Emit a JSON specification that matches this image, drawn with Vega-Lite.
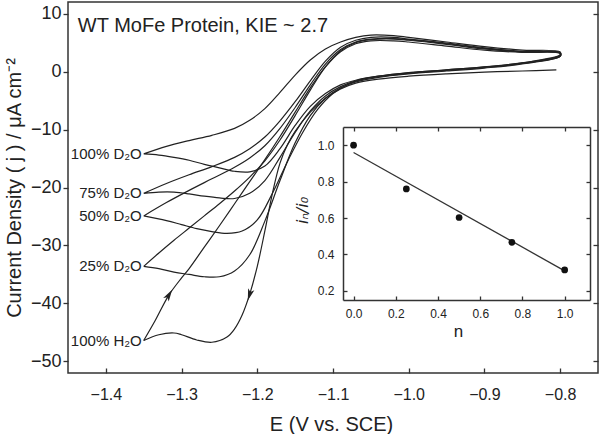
{
  "$schema": "https://vega.github.io/schema/vega-lite/v6.json",
  "width": 530,
  "height": 371,
  "autosize": "none",
  "padding": {"left": 68, "top": 2, "right": 2, "bottom": 61},
  "background": "white",
  "config": {
    "view": {"stroke": "#333", "strokeWidth": 1.5},
    "font": "Liberation Sans",
    "axis": {"labelColor": "#222", "titleColor": "#222", "tickColor": "#333", "domainColor": "#333", "grid": false, "labelFont": "Liberation Sans", "titleFont": "Liberation Sans", "titleFontWeight": "normal", "tickWidth": 1.3, "domainWidth": 1.5}
  },
  "datasets": {
    "cv": [
      {"c":"D100","i":0,"E":-1.35,"j":-14.2},{"c":"D100","i":1,"E":-1.32,"j":-12.9},{"c":"D100","i":2,"E":-1.29,"j":-11.9},{"c":"D100","i":3,"E":-1.26,"j":-11.0},{"c":"D100","i":4,"E":-1.23,"j":-9.8},{"c":"D100","i":5,"E":-1.21,"j":-8.4},{"c":"D100","i":6,"E":-1.19,"j":-6.4},{"c":"D100","i":7,"E":-1.17,"j":-3.6},{"c":"D100","i":8,"E":-1.15,"j":-0.6},{"c":"D100","i":9,"E":-1.13,"j":2.0},{"c":"D100","i":10,"E":-1.11,"j":3.9},{"c":"D100","i":11,"E":-1.09,"j":5.1},{"c":"D100","i":12,"E":-1.07,"j":5.9},{"c":"D100","i":13,"E":-1.05,"j":6.3},{"c":"D100","i":14,"E":-1.02,"j":6.2},{"c":"D100","i":15,"E":-1.0,"j":5.9},{"c":"D100","i":16,"E":-0.95,"j":5.1},{"c":"D100","i":17,"E":-0.9,"j":4.3},{"c":"D100","i":18,"E":-0.85,"j":3.7},{"c":"D100","i":19,"E":-0.8,"j":3.4},
      {"c":"D100","i":20,"E":-0.8,"j":2.9},{"c":"D100","i":21,"E":-0.85,"j":1.5},{"c":"D100","i":22,"E":-0.9,"j":0.8},{"c":"D100","i":23,"E":-0.95,"j":0.3},{"c":"D100","i":24,"E":-1.0,"j":-0.2},{"c":"D100","i":25,"E":-1.04,"j":-0.8},{"c":"D100","i":26,"E":-1.07,"j":-1.5},{"c":"D100","i":27,"E":-1.09,"j":-2.3},{"c":"D100","i":28,"E":-1.11,"j":-3.8},{"c":"D100","i":29,"E":-1.13,"j":-6.0},{"c":"D100","i":30,"E":-1.15,"j":-9.3},{"c":"D100","i":31,"E":-1.17,"j":-13.3},{"c":"D100","i":32,"E":-1.19,"j":-16.3},{"c":"D100","i":33,"E":-1.21,"j":-17.3},{"c":"D100","i":34,"E":-1.23,"j":-17.2},{"c":"D100","i":35,"E":-1.25,"j":-16.6},{"c":"D100","i":36,"E":-1.27,"j":-16.0},{"c":"D100","i":37,"E":-1.29,"j":-15.3},{"c":"D100","i":38,"E":-1.31,"j":-14.8},{"c":"D100","i":39,"E":-1.33,"j":-14.4},{"c":"D100","i":40,"E":-1.35,"j":-14.2},

      {"c":"D75","i":0,"E":-1.35,"j":-21.0},{"c":"D75","i":1,"E":-1.32,"j":-19.3},{"c":"D75","i":2,"E":-1.29,"j":-17.8},{"c":"D75","i":3,"E":-1.26,"j":-16.4},{"c":"D75","i":4,"E":-1.23,"j":-14.8},{"c":"D75","i":5,"E":-1.21,"j":-13.3},{"c":"D75","i":6,"E":-1.19,"j":-11.3},{"c":"D75","i":7,"E":-1.17,"j":-8.5},{"c":"D75","i":8,"E":-1.15,"j":-5.2},{"c":"D75","i":9,"E":-1.13,"j":-1.6},{"c":"D75","i":10,"E":-1.11,"j":1.8},{"c":"D75","i":11,"E":-1.09,"j":4.2},{"c":"D75","i":12,"E":-1.07,"j":5.4},{"c":"D75","i":13,"E":-1.05,"j":5.9},{"c":"D75","i":14,"E":-1.02,"j":5.9},{"c":"D75","i":15,"E":-1.0,"j":5.6},{"c":"D75","i":16,"E":-0.95,"j":4.9},{"c":"D75","i":17,"E":-0.9,"j":4.1},{"c":"D75","i":18,"E":-0.85,"j":3.5},{"c":"D75","i":19,"E":-0.8,"j":3.3},
      {"c":"D75","i":20,"E":-0.8,"j":2.8},{"c":"D75","i":21,"E":-0.85,"j":1.5},{"c":"D75","i":22,"E":-0.9,"j":0.8},{"c":"D75","i":23,"E":-0.95,"j":0.3},{"c":"D75","i":24,"E":-1.0,"j":-0.2},{"c":"D75","i":25,"E":-1.04,"j":-0.8},{"c":"D75","i":26,"E":-1.07,"j":-1.6},{"c":"D75","i":27,"E":-1.09,"j":-2.6},{"c":"D75","i":28,"E":-1.11,"j":-4.2},{"c":"D75","i":29,"E":-1.13,"j":-6.8},{"c":"D75","i":30,"E":-1.15,"j":-10.5},{"c":"D75","i":31,"E":-1.17,"j":-14.8},{"c":"D75","i":32,"E":-1.19,"j":-18.8},{"c":"D75","i":33,"E":-1.21,"j":-21.0},{"c":"D75","i":34,"E":-1.23,"j":-21.9},{"c":"D75","i":35,"E":-1.25,"j":-21.8},{"c":"D75","i":36,"E":-1.27,"j":-21.5},{"c":"D75","i":37,"E":-1.29,"j":-21.1},{"c":"D75","i":38,"E":-1.31,"j":-20.8},{"c":"D75","i":39,"E":-1.33,"j":-20.8},{"c":"D75","i":40,"E":-1.35,"j":-21.0},

      {"c":"D50","i":0,"E":-1.35,"j":-24.9},{"c":"D50","i":1,"E":-1.32,"j":-22.6},{"c":"D50","i":2,"E":-1.29,"j":-20.5},{"c":"D50","i":3,"E":-1.26,"j":-18.5},{"c":"D50","i":4,"E":-1.23,"j":-16.5},{"c":"D50","i":5,"E":-1.21,"j":-14.9},{"c":"D50","i":6,"E":-1.19,"j":-12.8},{"c":"D50","i":7,"E":-1.17,"j":-9.8},{"c":"D50","i":8,"E":-1.15,"j":-6.2},{"c":"D50","i":9,"E":-1.13,"j":-2.3},{"c":"D50","i":10,"E":-1.11,"j":1.3},{"c":"D50","i":11,"E":-1.09,"j":3.8},{"c":"D50","i":12,"E":-1.07,"j":5.1},{"c":"D50","i":13,"E":-1.05,"j":5.6},{"c":"D50","i":14,"E":-1.02,"j":5.7},{"c":"D50","i":15,"E":-1.0,"j":5.5},{"c":"D50","i":16,"E":-0.95,"j":4.8},{"c":"D50","i":17,"E":-0.9,"j":4.0},{"c":"D50","i":18,"E":-0.85,"j":3.4},{"c":"D50","i":19,"E":-0.8,"j":3.2},
      {"c":"D50","i":20,"E":-0.8,"j":2.7},{"c":"D50","i":21,"E":-0.85,"j":1.4},{"c":"D50","i":22,"E":-0.9,"j":0.7},{"c":"D50","i":23,"E":-0.95,"j":0.2},{"c":"D50","i":24,"E":-1.0,"j":-0.3},{"c":"D50","i":25,"E":-1.04,"j":-0.9},{"c":"D50","i":26,"E":-1.06,"j":-1.3},{"c":"D50","i":27,"E":-1.08,"j":-2.2},{"c":"D50","i":28,"E":-1.1,"j":-3.8},{"c":"D50","i":29,"E":-1.12,"j":-6.5},{"c":"D50","i":30,"E":-1.14,"j":-10.5},{"c":"D50","i":31,"E":-1.16,"j":-15.5},{"c":"D50","i":32,"E":-1.18,"j":-21.0},{"c":"D50","i":33,"E":-1.2,"j":-25.6},{"c":"D50","i":34,"E":-1.22,"j":-27.5},{"c":"D50","i":35,"E":-1.24,"j":-27.9},{"c":"D50","i":36,"E":-1.26,"j":-27.6},{"c":"D50","i":37,"E":-1.28,"j":-27.1},{"c":"D50","i":38,"E":-1.3,"j":-26.4},{"c":"D50","i":39,"E":-1.32,"j":-25.7},{"c":"D50","i":40,"E":-1.35,"j":-24.9},

      {"c":"D25","i":0,"E":-1.35,"j":-33.6},{"c":"D25","i":1,"E":-1.33,"j":-31.3},{"c":"D25","i":2,"E":-1.31,"j":-29.1},{"c":"D25","i":3,"E":-1.29,"j":-27.0},{"c":"D25","i":4,"E":-1.27,"j":-24.9},{"c":"D25","i":5,"E":-1.25,"j":-22.8},{"c":"D25","i":6,"E":-1.23,"j":-20.6},{"c":"D25","i":7,"E":-1.21,"j":-18.2},{"c":"D25","i":8,"E":-1.19,"j":-15.4},{"c":"D25","i":9,"E":-1.17,"j":-11.8},{"c":"D25","i":10,"E":-1.15,"j":-7.6},{"c":"D25","i":11,"E":-1.13,"j":-3.2},{"c":"D25","i":12,"E":-1.11,"j":0.8},{"c":"D25","i":13,"E":-1.09,"j":3.6},{"c":"D25","i":14,"E":-1.07,"j":5.0},{"c":"D25","i":15,"E":-1.05,"j":5.5},{"c":"D25","i":16,"E":-1.02,"j":5.6},{"c":"D25","i":17,"E":-1.0,"j":5.4},{"c":"D25","i":18,"E":-0.95,"j":4.7},{"c":"D25","i":19,"E":-0.9,"j":3.9},{"c":"D25","i":20,"E":-0.85,"j":3.4},{"c":"D25","i":21,"E":-0.8,"j":3.2},
      {"c":"D25","i":22,"E":-0.8,"j":2.6},{"c":"D25","i":23,"E":-0.85,"j":1.3},{"c":"D25","i":24,"E":-0.9,"j":0.6},{"c":"D25","i":25,"E":-0.95,"j":0.1},{"c":"D25","i":26,"E":-1.0,"j":-0.4},{"c":"D25","i":27,"E":-1.04,"j":-1.0},{"c":"D25","i":28,"E":-1.07,"j":-1.8},{"c":"D25","i":29,"E":-1.09,"j":-2.8},{"c":"D25","i":30,"E":-1.11,"j":-4.6},{"c":"D25","i":31,"E":-1.13,"j":-7.6},{"c":"D25","i":32,"E":-1.15,"j":-12.3},{"c":"D25","i":33,"E":-1.17,"j":-18.8},{"c":"D25","i":34,"E":-1.19,"j":-25.8},{"c":"D25","i":35,"E":-1.21,"j":-31.6},{"c":"D25","i":36,"E":-1.23,"j":-34.4},{"c":"D25","i":37,"E":-1.25,"j":-35.4},{"c":"D25","i":38,"E":-1.27,"j":-35.4},{"c":"D25","i":39,"E":-1.29,"j":-35.0},{"c":"D25","i":40,"E":-1.31,"j":-34.6},{"c":"D25","i":41,"E":-1.33,"j":-34.0},{"c":"D25","i":42,"E":-1.35,"j":-33.6},

      {"c":"H100a","i":0,"E":-1.35,"j":-46.4},{"c":"H100a","i":1,"E":-1.335,"j":-43.0},{"c":"H100a","i":2,"E":-1.317,"j":-38.6},{"c":"H100a","i":3,"E":-1.3,"j":-35.6},{"c":"H100a","i":4,"E":-1.29,"j":-34.0},{"c":"H100a","i":5,"E":-1.27,"j":-30.3},{"c":"H100a","i":6,"E":-1.25,"j":-26.6},{"c":"H100a","i":7,"E":-1.23,"j":-22.8},{"c":"H100a","i":8,"E":-1.21,"j":-19.0},{"c":"H100a","i":9,"E":-1.19,"j":-15.2},{"c":"H100a","i":10,"E":-1.17,"j":-11.2},{"c":"H100a","i":11,"E":-1.15,"j":-7.0},{"c":"H100a","i":12,"E":-1.13,"j":-2.8},{"c":"H100a","i":13,"E":-1.11,"j":0.8},{"c":"H100a","i":14,"E":-1.09,"j":3.4},{"c":"H100a","i":15,"E":-1.07,"j":4.8},{"c":"H100a","i":16,"E":-1.05,"j":5.3},{"c":"H100a","i":17,"E":-1.02,"j":5.3},{"c":"H100a","i":18,"E":-1.0,"j":5.1},{"c":"H100a","i":19,"E":-0.95,"j":4.4},{"c":"H100a","i":20,"E":-0.9,"j":3.7},{"c":"H100a","i":21,"E":-0.85,"j":3.3},{"c":"H100a","i":22,"E":-0.8,"j":3.1},{"c":"H100a","i":23,"E":-0.8,"j":2.6},{"c":"H100a","i":24,"E":-0.84,"j":1.6},
      {"c":"H100b","i":0,"E":-0.805,"j":0.3},{"c":"H100b","i":1,"E":-0.85,"j":0.1},{"c":"H100b","i":2,"E":-0.9,"j":-0.1},{"c":"H100b","i":3,"E":-0.95,"j":-0.4},{"c":"H100b","i":4,"E":-1.0,"j":-0.8},{"c":"H100b","i":5,"E":-1.04,"j":-1.3},{"c":"H100b","i":6,"E":-1.07,"j":-2.0},{"c":"H100b","i":7,"E":-1.09,"j":-3.0},{"c":"H100b","i":8,"E":-1.11,"j":-4.6},{"c":"H100b","i":9,"E":-1.13,"j":-7.0},{"c":"H100b","i":10,"E":-1.15,"j":-10.3},{"c":"H100b","i":11,"E":-1.16,"j":-12.6},{"c":"H100b","i":12,"E":-1.17,"j":-15.8},{"c":"H100b","i":13,"E":-1.18,"j":-21.0},{"c":"H100b","i":14,"E":-1.19,"j":-27.5},{"c":"H100b","i":15,"E":-1.2,"j":-33.6},{"c":"H100b","i":16,"E":-1.21,"j":-38.4},{"c":"H100b","i":17,"E":-1.22,"j":-42.0},{"c":"H100b","i":18,"E":-1.23,"j":-44.4},{"c":"H100b","i":19,"E":-1.24,"j":-45.8},{"c":"H100b","i":20,"E":-1.26,"j":-46.7},{"c":"H100b","i":21,"E":-1.28,"j":-46.3},{"c":"H100b","i":22,"E":-1.3,"j":-45.4},{"c":"H100b","i":23,"E":-1.31,"j":-45.1},{"c":"H100b","i":24,"E":-1.33,"j":-45.4},{"c":"H100b","i":25,"E":-1.35,"j":-46.4}
    ],
    "labels": [
      {"label": "100% D₂O", "E": -1.35, "j": -14.2},
      {"label": "75% D₂O", "E": -1.35, "j": -21.0},
      {"label": "50% D₂O", "E": -1.35, "j": -24.9},
      {"label": "25% D₂O", "E": -1.35, "j": -33.6},
      {"label": "100% H₂O", "E": -1.35, "j": -46.4}
    ],
    "heading": [{"t": "WT MoFe Protein, KIE ~ 2.7", "E": -1.437, "j": 6.8}],
    "arrowUp": [{"E": -1.317, "j": -38.6}],
    "arrowDown": [{"E": -1.21, "j": -38.4}],
    "inset": [
      {"n": 0.0, "r": 1.0},
      {"n": 0.25, "r": 0.76},
      {"n": 0.5, "r": 0.603},
      {"n": 0.75, "r": 0.467},
      {"n": 1.0, "r": 0.315}
    ],
    "fit": [{"n": 0.0, "r": 0.96}, {"n": 1.0, "r": 0.31}]
  },
  "layer": [
    {
      "layer": [
        {
          "data": {"name": "cv"},
          "mark": {"type": "line", "interpolate": "catmull-rom", "color": "#222", "strokeWidth": 1.2},
          "encoding": {
            "x": {"field": "E", "type": "quantitative", "scale": {"domain": [-1.45, -0.75], "nice": false, "zero": false},
              "axis": {"orient": "bottom", "values": [-1.4, -1.3, -1.2, -1.1, -1.0, -0.9, -0.8], "format": ".1f", "tickSize": -5, "labelPadding": 18, "labelFontSize": 16, "domain": false,
                "title": "E (V vs. SCE)", "titleFontSize": 20, "titleBaseline": "alphabetic", "titleX": 263, "titleY": 57}},
            "y": {"field": "j", "type": "quantitative", "scale": {"domain": [-52, 12], "nice": false, "zero": false},
              "axis": {"orient": "left", "values": [10, 0, -10, -20, -30, -40, -50], "tickSize": 5, "labelPadding": 2, "labelFontSize": 18, "domain": false,
                "title": "Current Density ( j ) / μA cm⁻²", "titleFontSize": 20, "titleX": -44, "titleY": 185.5}},
            "detail": {"field": "c"},
            "order": {"field": "i", "type": "quantitative"}
          }
        },
        {
          "data": {"name": "labels"},
          "mark": {"type": "text", "align": "right", "baseline": "middle", "dx": -2, "fontSize": 15, "color": "#222"},
          "encoding": {
            "x": {"field": "E", "type": "quantitative"},
            "y": {"field": "j", "type": "quantitative",
              "axis": {"orient": "right", "values": [10, 0, -10, -20, -30, -40, -50], "labels": false, "tickSize": -5, "domain": false, "title": null}},
            "text": {"field": "label"}
          }
        },
        {
          "data": {"name": "heading"},
          "mark": {"type": "text", "align": "left", "baseline": "alphabetic", "fontSize": 20, "color": "#222"},
          "encoding": {
            "x": {"field": "E", "type": "quantitative"},
            "y": {"field": "j", "type": "quantitative", "axis": null},
            "text": {"field": "t"}
          }
        },
        {
          "data": {"name": "arrowUp"},
          "mark": {"type": "point", "shape": "M0,-1L0.5,0.8L0,0.35L-0.5,0.8Z", "filled": true, "color": "#222", "size": 170, "angle": 32, "opacity": 1},
          "encoding": {
            "x": {"field": "E", "type": "quantitative"},
            "y": {"field": "j", "type": "quantitative", "axis": null}
          }
        },
        {
          "data": {"name": "arrowDown"},
          "mark": {"type": "point", "shape": "M0,-1L0.5,0.8L0,0.35L-0.5,0.8Z", "filled": true, "color": "#222", "size": 170, "angle": 197, "opacity": 1},
          "encoding": {
            "x": {"field": "E", "type": "quantitative"},
            "y": {"field": "j", "type": "quantitative", "axis": null}
          }
        }
      ],
      "resolve": {"axis": {"y": "independent"}}
    },
    {
      "layer": [
        {
          "data": {"name": "fit"},
          "mark": {"type": "line", "color": "#333", "strokeWidth": 1.3},
          "encoding": {
            "x": {"field": "n", "type": "quantitative", "scale": {"domain": [-0.05, 1.12], "range": [275, 522], "nice": false, "zero": false},
              "axis": {"orient": "top", "offset": -125, "values": [0, 0.2, 0.4, 0.6, 0.8, 1.0], "labels": false, "tickSize": -4, "domain": true, "title": null}},
            "y": {"field": "r", "type": "quantitative", "scale": {"domain": [0.15, 1.1], "range": [298, 125], "nice": false, "zero": false},
              "axis": {"orient": "right", "offset": -8, "values": [0.2, 0.4, 0.6, 0.8, 1.0], "labels": false, "tickSize": -4, "domain": true, "title": null}}
          }
        },
        {
          "data": {"name": "inset"},
          "mark": {"type": "point", "filled": true, "color": "#111", "size": 45, "opacity": 1},
          "encoding": {
            "x": {"field": "n", "type": "quantitative", "scale": {"domain": [-0.05, 1.12], "range": [275, 522], "nice": false, "zero": false},
              "axis": {"orient": "bottom", "offset": -73, "values": [0, 0.2, 0.4, 0.6, 0.8, 1.0], "format": ".1f", "tickSize": -4, "labelPadding": 12, "labelFontSize": 12, "domain": true,
                "title": "n", "titleFontSize": 17, "titleBaseline": "alphabetic", "titleX": 390, "titleY": 36}},
            "y": {"field": "r", "type": "quantitative", "scale": {"domain": [0.15, 1.1], "range": [298, 125], "nice": false, "zero": false},
              "axis": {"orient": "left", "offset": -275, "values": [0.2, 0.4, 0.6, 0.8, 1.0], "format": ".1f", "tickSize": -4, "labelPadding": 13, "labelFontSize": 12, "domain": true,
                "title": "iₙ/i₀", "titleFont": "DejaVu Sans", "titleFontStyle": "italic", "titleFontSize": 16, "titleX": -33, "titleY": 208}}
          }
        }
      ],
      "resolve": {"axis": {"x": "independent", "y": "independent"}}
    }
  ],
  "resolve": {"scale": {"x": "independent", "y": "independent"}}
}
